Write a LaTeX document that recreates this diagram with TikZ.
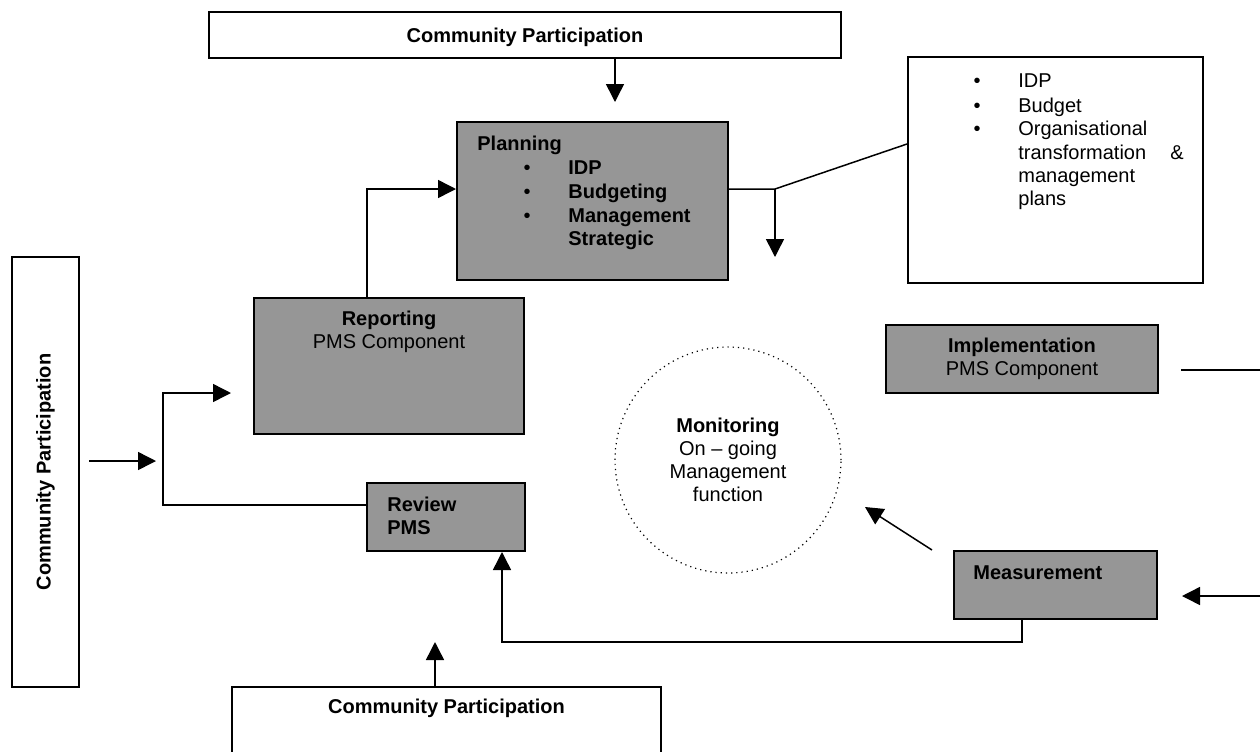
\documentclass[tikz,border=0pt]{standalone}
\usepackage{fontspec}
\setmainfont{Liberation Sans}
\usetikzlibrary{arrows.meta,positioning,calc}
\definecolor{boxgray}{RGB}{150,150,150}
\tikzset{
  every node/.style={inner sep=0pt},
  box/.style={draw,line width=1pt},
  graybox/.style={box,fill=boxgray},
  link/.style={line width=0.75pt},
  arr/.style={line width=0.75pt,-{Triangle[length=9pt,width=9pt]}},
  txt/.style={anchor=base west},
  bul/.style={anchor=base},
}

\begin{document}
\begin{tikzpicture}[x=0.5pt,y=-0.5pt,font=\fontsize{10}{11.5}\selectfont]
    % Page frame
    \clip (0,0) rectangle (1260,751);
    \fill[white] (0,0) rectangle (1260,751);

    % Community participation boxes
    \node[box,minimum width=316pt,minimum height=23pt,text depth=0pt] (cptop) at (525,35) {\bfseries Community Participation};
    \node[box,rotate=90,minimum width=215pt,minimum height=33.5pt] (cpleft) at (45.5,472) {\bfseries Community Participation};
    \node[box,anchor=north,minimum width=214.5pt,minimum height=60pt] (cpbot) at (446.5,686) {};
    \node[font=\bfseries] at (446.5,708) {Community Participation};

    % Planning
    \node[graybox,minimum width=135.5pt,minimum height=79pt] (plan) at (592.5,201) {};
    \node[txt,font=\bfseries] at (477,150) {Planning};
    \foreach \y/\txt in {174/IDP,198/Budgeting,222/Management}{
      \node[bul] at (527,\y) {\textbullet};
      \node[txt,font=\bfseries] at (568,\y) {\txt};
    }
    \node[txt,font=\bfseries] at (568,245) {Strategic};

    % Plans box
    \node[box,minimum width=147.5pt,minimum height=113pt] (goals) at (1055.5,170) {};
    \foreach \y/\txt in {87/IDP,112/Budget,135/Organisational}{
      \node[bul] at (977,\y) {\textbullet};
      \node[txt] at (1018,\y) {\txt};
    }
    \foreach \y/\txt in {159/transformation,182/management,205/plans}
      \node[txt] at (1018,\y) {\txt};
    \node[bul] at (1177,159) {\&};

    % PMS components
    \node[graybox,minimum width=135pt,minimum height=68pt] (report) at (389,366) {};
    \node[align=center] at (389,332) {\textbf{Reporting}\\PMS Component};
    \node[graybox,minimum width=136pt,minimum height=34pt,align=center] (impl) at (1022,359) {\textbf{Implementation}\\PMS Component};
    \node[graybox,minimum width=79pt,minimum height=34pt] (review) at (446,517) {};
    \node[align=left,anchor=west] at (387,516) {\textbf{Review}\\\textbf{PMS}};
    \node[graybox,minimum width=101.5pt,minimum height=34pt] (measure) at (1055.5,585) {};
    \node[anchor=west,font=\bfseries] at (973,573) {Measurement};

    % Monitoring
    \node[circle,draw,dotted,line width=0.6pt,minimum size=113pt,align=center] (monitor) at (728,460)
      {\textbf{Monitoring}\\On -- going\\Management\\function};

    % Connectors
    \coordinate (cpin) at (615,102);
    \draw[arr] (cptop.south -| cpin) -- (cpin);

    \coordinate (fork) at (775,189);
    \coordinate (forkend) at (775,257);
    \draw[link] (plan.east |- fork) -- (fork) -- ([yshift=13pt]goals.west);
    \draw[arr] (fork) -- (forkend);

    \draw[arr] ([xshift=-11pt]report.north) |- ([yshift=6pt]plan.west);

    \coordinate (bend) at (163,393);
    \coordinate (repin) at (231,393);
    \draw[arr] ([yshift=6pt]review.west) -| (bend) -- (repin);

    \coordinate (cpout) at (89,461);
    \coordinate (loopin) at (156,461);
    \draw[arr] (cpout) -- (loopin);

    \coordinate (implout) at (1260,370);
    \draw[link] ([shift={(11pt,-5.5pt)}]impl.east) -- (implout);

    \coordinate (measin) at (1260,596);
    \draw[arr] (measin) -- ([xshift=12pt]measure.east |- measin);

    \coordinate (monin) at (865,507);
    \draw[arr] ([xshift=-10.5pt]measure.north west) -- (monin);

    \draw[arr] ([xshift=-16.75pt]measure.south) -- ++(0,-11pt) -| ([xshift=28pt]review.south);

    \coordinate (revin) at (435,642);
    \draw[arr] (cpbot.north -| revin) -- (revin);
\end{tikzpicture}
\end{document}
